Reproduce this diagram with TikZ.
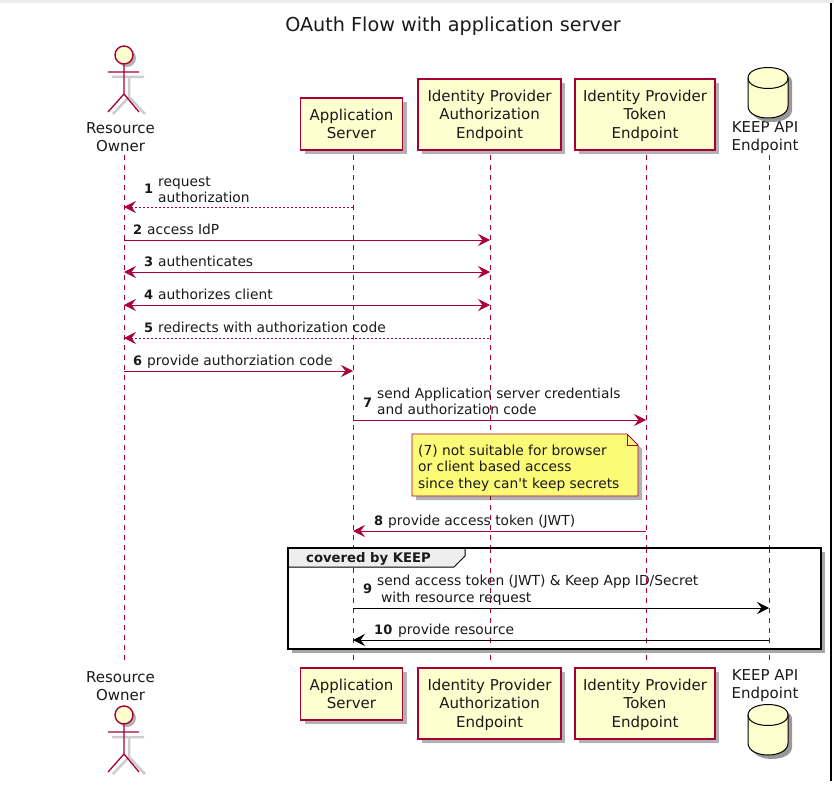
\documentclass[tikz,border=0pt]{standalone}
\usepackage{fontspec}
\setmainfont{DejaVu Sans}
\usetikzlibrary{arrows.meta, positioning, shadows, shapes.geometric}
\definecolor{umlline}{HTML}{A80036}
\definecolor{umlfill}{HTML}{FEFECE}
\definecolor{notefill}{HTML}{FBFB77}
\definecolor{tabfill}{HTML}{EEEEEE}
\definecolor{inktext}{HTML}{1A1A1A}
\newcommand{\toppad}{\rule{0pt}{14pt}}
\begin{document}
\begin{tikzpicture}[x=1pt, y=-1pt, text=inktext]
	\useasboundingbox (0,0) rectangle (834,786);
	% Define elements
	\tikzstyle{base} = [font = \fontsize{13.8}{16.5}\selectfont]
	\tikzstyle{party} = [font = \fontsize{15}{18.5}\selectfont, rectangle, draw = umlline, line width=1.1pt, fill = umlfill, align = center,
		inner sep=0pt, drop shadow={shadow xshift=4pt, shadow yshift=-4pt, fill=black, opacity=0.3}]
	\tikzstyle{who} = [font = \fontsize{15}{18}\selectfont, align = center, inner sep=0pt]
	\tikzstyle{life} = [draw = umlline, dashed, dash pattern=on 5pt off 5pt, line width=0.8pt]
	\tikzstyle{msg} = [draw = umlline, line width=0.9pt, arrows = {-Stealth[length=12pt, width=12pt, inset=4.5pt]}]
	\tikzstyle{ret} = [msg, dash pattern=on 2pt off 2pt, line width=0.7pt, arrows = {Stealth[length=12pt, width=12pt, inset=4.5pt]-}]
	\tikzstyle{both} = [msg, arrows = {Stealth[length=12pt, width=12pt, inset=4.5pt]-Stealth[length=12pt, width=12pt, inset=4.5pt]}]
	\tikzstyle{keepmsg} = [msg, draw = black]
	\tikzstyle{num} = [font = \fontsize{13}{16.5}\selectfont\bfseries, inner sep=0pt, anchor = west]
	\tikzstyle{lbl} = [base, inner sep=0pt, anchor = west, align = left]
	\tikzstyle{numline} = [num, anchor = base west]
	\tikzstyle{lblline} = [lbl, anchor = base west]
	\tikzstyle{stick} = [draw = umlline, line width=1.3pt]
	\tikzstyle{stickshade} = [draw = black!20, line width=2.5pt]

	% screenshot edges
	\fill [black!8] (0,0) rectangle (834,3);
	\fill [black] (830,3) rectangle (831.5,781);

	\node [name = title, font = \fontsize{19.2}{22}\selectfont, inner sep=0pt] at (453,26.5) {OAuth Flow with application server};

	%% Top row
	\node [name = ownertop, who] at (120.5,137.5) {Resource\\Owner};
	\node [name = apptop, party, minimum width=102pt, minimum height=52pt] at (351.5,124) {Application\\Server};
	\node [name = authtop, party, minimum width=143pt, minimum height=71pt] at (489.5,114.5) {\toppad Identity Provider\\Authorization\\Endpoint};
	\node [name = tokentop, party, minimum width=140pt, minimum height=71pt] at (645,114.5) {\toppad Identity Provider\\Token\\Endpoint};
	\node [name = keeptop, who] at (765,137.5) {KEEP API\\Endpoint};

	%% Bottom row
	\node [name = ownerbot, who] at (120.5,686) {Resource\\Owner};
	\node [name = appbot, party, minimum width=102pt, minimum height=52pt] at (351.5,694) {Application\\Server};
	\node [name = authbot, party, minimum width=143pt, minimum height=71pt] at (489.5,703.5) {\toppad Identity Provider\\Authorization\\Endpoint};
	\node [name = tokenbot, party, minimum width=140pt, minimum height=71pt] at (645,703.5) {\toppad Identity Provider\\Token\\Endpoint};
	\node [name = keepbot, who] at (765,686) {KEEP API\\Endpoint};

	% message rows on each lifeline
	\foreach \lane/\xx in {owner/124, app/353, auth/490, token/646, keep/769}
		\foreach \row/\yy in {a/207, b/240, c/272, d/305, e/338, f/371, g/420, h/531, i/608, j/640, s/155, t/663}
			\coordinate (\lane\row) at (\xx,\yy);

	% lifelines
	\foreach \lane in {owner, app, auth, token, keep}
		\path [life] (\lane s) -- (\lane t);

	% actors
	\foreach \who/\dy in {actortop/0, actorbot/660}{
		\begin{scope}[yshift=-\dy pt]
			\path [stickshade] (112,77) -- (144,77) (129,77) -- (129,97) -- (113,114) (129,97) -- (145,114);
			\node [name = \who, circle, draw = umlline, line width=1.4pt, fill = umlfill, minimum size=18pt, inner sep=0pt,
				drop shadow={shadow xshift=3pt, shadow yshift=-3pt, fill=black, opacity=0.3}] at (124,55) {};
			\path [stick] (\who.south) -- (124,94) (108,72) -- (139,72) (108,112) -- (124,94) -- (139,112);
		\end{scope}
	}

	% databases
	\foreach \who/\dy in {dbtop/0, dbbot/637}{
		\begin{scope}[yshift=-\dy pt]
			\fill [black!40] (752,82) .. controls (752,68) and (792,68) .. (792,82) -- (792,110)
				.. controls (792,126) and (752,126) .. (752,110) -- cycle;
			\path [name = \who, draw = black, line width=1pt, fill = umlfill] (748,78) .. controls (748,64) and (788,64) .. (788,78) -- (788,106)
				.. controls (788,122) and (748,122) .. (748,106) -- cycle;
			\path [draw = black, line width=1pt] (748,78) .. controls (748,92) and (788,92) .. (788,78);
		\end{scope}
	}

	%% Messages
	\path [ret] (ownera) -- (appa);
	\node [name = numa, num] at (144,189) {1};
	\node [name = lbla, lbl] at (158,190) {request\\authorization};
	\path [msg] (ownerb) -- (authb);
	\node [name = numb, numline] at (133,234) {2};
	\node [name = lblb, lblline] at (147,234) {access IdP};
	\path [both] (ownerc) -- (authc);
	\node [name = numc, numline] at (144,266.5) {3};
	\node [name = lblc, lblline] at (158,266.5) {authenticates};
	\path [both] (ownerd) -- (authd);
	\node [name = numd, numline] at (144,299.5) {4};
	\node [name = lbld, lblline] at (158,299.5) {authorizes client};
	\path [ret] (ownere) -- (authe);
	\node [name = nume, numline] at (144,332) {5};
	\node [name = lble, lblline] at (158,332) {redirects with authorization code};
	\path [msg] (ownerf) -- (appf);
	\node [name = numf, numline] at (133,365) {6};
	\node [name = lblf, lblline] at (147,365) {provide authorziation code};
	\path [msg] (appg) -- (tokeng);
	\node [name = numg, num] at (363,403) {7};
	\node [name = lblg, lbl] at (377,401.5) {send Application server credentials\\and authorization code};

	% note
	\path [name = notebody, draw = umlline, line width=0.9pt, fill = notefill, drop shadow={shadow xshift=4pt, shadow yshift=-4pt, fill=black, opacity=0.3}]
		(412,434) -- (627,434) -- (638,445) -- (638,496) -- (412,496) -- cycle;
	\path [draw = umlline, line width=0.9pt] (627,434) -- (627,445) -- (638,445);
	\node [name = notetext, lbl] at (418,468) {(7) not suitable for browser\\or client based access\\since they can\textquotesingle t keep secrets};

	\path [msg] (tokenh) -- (apph);
	\node [name = numh, numline] at (374,525) {8};
	\node [name = lblh, lblline] at (388,525) {provide access token (JWT)};

	% group
	\fill [black!35] (292,552) rectangle (825,653);
	\fill [white] (288,548) rectangle (821,649);
	\foreach \lane in {app, auth, token, keep}
		\path [life] (\lane s |- 0,548) -- (\lane t |- 0,649);
	\path [draw = black, line width=1pt, fill = tabfill] (288,548) -- (465,548) -- (465,556) -- (454,567) -- (288,567) -- cycle;
	\draw [name = keepbox, black, line width=2pt] (288,548) rectangle (821,649);
	\node [name = keeplbl, lbl, font = \fontsize{13.2}{16.5}\selectfont\bfseries] at (306,559) {covered by KEEP};
	\path [keepmsg] (appi) -- (keepi);
	\node [name = numi, num] at (363,589) {9};
	\node [name = lbli, lbl] at (377,590) {send access token (JWT) \& Keep App ID/Secret\\\hspace{4pt}with resource request};
	\path [keepmsg] (keepj) -- (appj);
	\node [name = numj, numline] at (374,634.5) {10};
	\node [name = lblj, lblline] at (398,634.5) {provide resource};
\end{tikzpicture}
\end{document}
